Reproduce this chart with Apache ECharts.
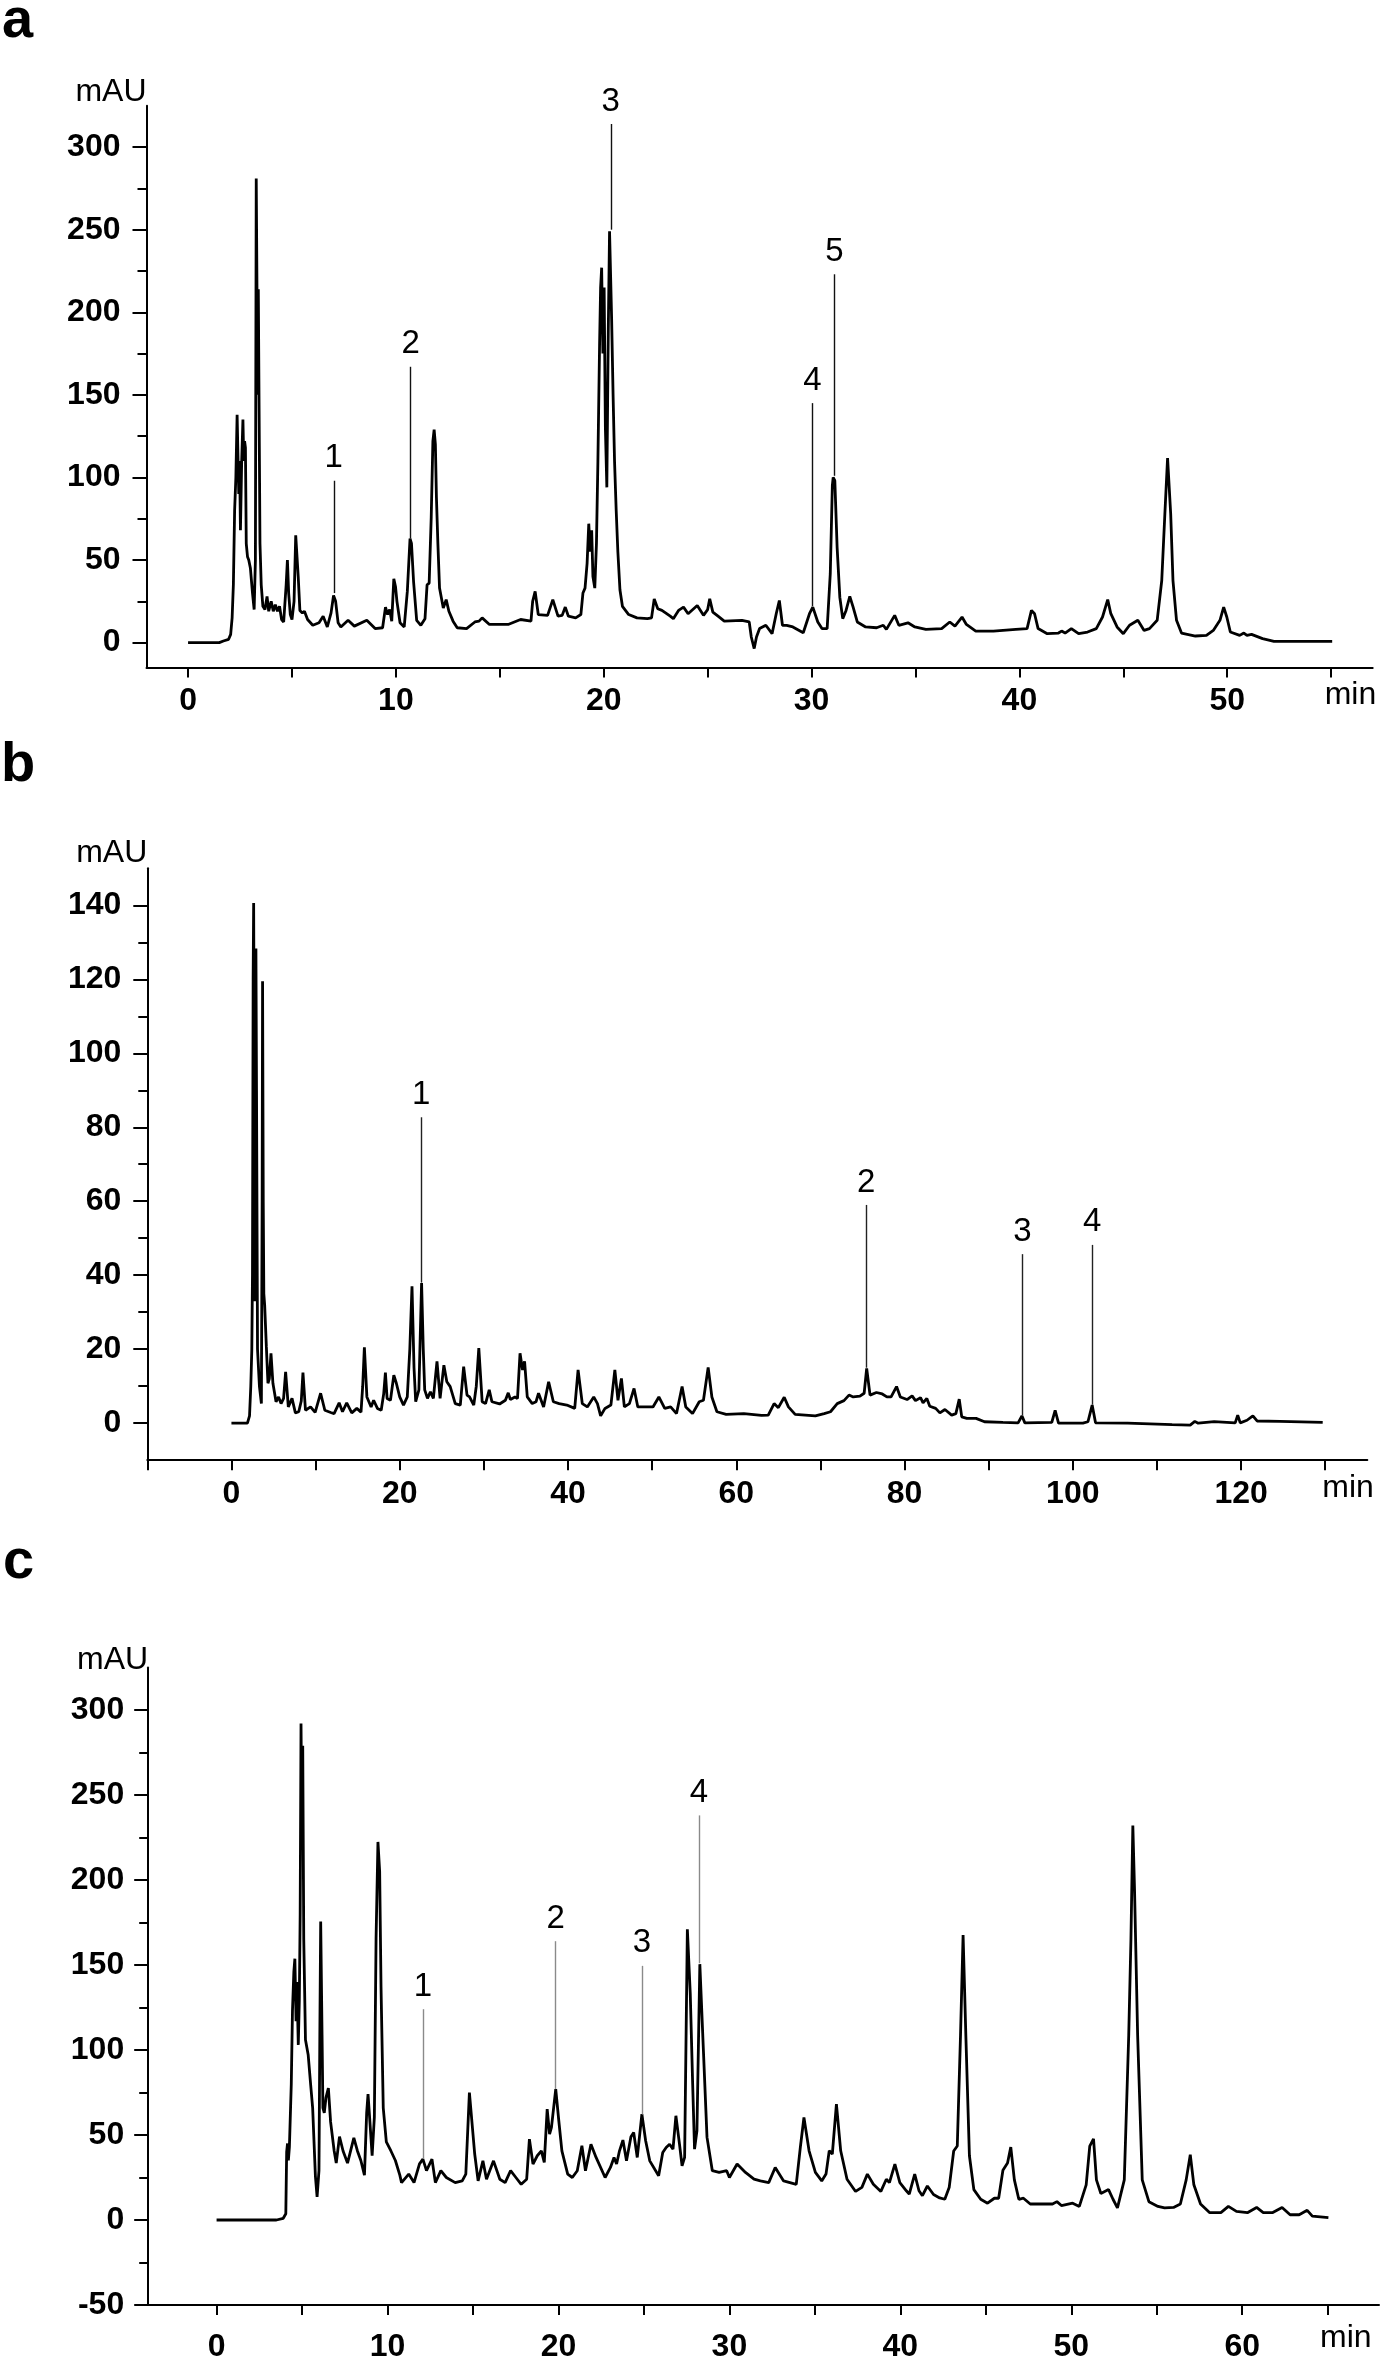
<!DOCTYPE html>
<html>
<head>
<meta charset="utf-8">
<script src="https://cdn.jsdelivr.net/npm/echarts@6/dist/echarts.min.js"></script>
<style>
  html, body { margin: 0; padding: 0; background: #fff; }
  #chart { width: 1383px; height: 2362px; }
</style>
</head>
<body>
<div id="chart"></div>
<script>
// ---- panel a : retention time (min) / absorbance (mAU)
var timeA = [0, 1.5, 1.7, 1.95, 2.05, 2.12, 2.18, 2.24, 2.3, 2.36, 2.4, 2.44, 2.48, 2.52, 2.58, 2.64, 2.68, 2.72, 2.76, 2.8, 2.86, 2.92, 3.0, 3.1, 3.18, 3.24, 3.28, 3.32, 3.35, 3.38, 3.42, 3.46, 3.52, 3.6, 3.7, 3.8, 3.88, 4.0, 4.1, 4.2, 4.3, 4.4, 4.5, 4.6, 4.72, 4.78, 4.84, 4.92, 5.0, 5.1, 5.18, 5.25, 5.3, 5.38, 5.5, 5.6, 5.75, 6.0, 6.3, 6.5, 6.7, 6.88, 7.0, 7.1, 7.22, 7.35, 7.7, 8.0, 8.6, 9.0, 9.36, 9.5, 9.6, 9.7, 9.8, 9.9, 9.98, 10.05, 10.2, 10.4, 10.55, 10.68, 10.75, 10.85, 11.0, 11.2, 11.4, 11.5, 11.6, 11.7, 11.78, 11.84, 11.9, 11.95, 12.02, 12.1, 12.28, 12.42, 12.55, 12.75, 12.95, 13.4, 13.8, 14.0, 14.15, 14.5, 15.4, 16.0, 16.5, 16.58, 16.7, 16.85, 17.3, 17.55, 17.8, 18.0, 18.15, 18.3, 18.65, 18.9, 19.0, 19.1, 19.2, 19.28, 19.35, 19.42, 19.48, 19.57, 19.65, 19.72, 19.8, 19.85, 19.9, 19.96, 20.02, 20.08, 20.15, 20.22, 20.28, 20.33, 20.38, 20.45, 20.52, 20.6, 20.68, 20.78, 20.9, 21.2, 21.6, 22.1, 22.3, 22.43, 22.6, 22.8, 23.2, 23.35, 23.5, 23.6, 23.84, 24.06, 24.5, 24.8, 25.0, 25.1, 25.25, 25.5, 25.8, 26.65, 27.0, 27.1, 27.24, 27.35, 27.5, 27.8, 28.1, 28.3, 28.45, 28.6, 28.8, 29.1, 29.6, 29.9, 30.06, 30.3, 30.5, 30.75, 30.9, 31.0, 31.04, 31.12, 31.23, 31.36, 31.5, 31.66, 31.84, 32.0, 32.2, 32.6, 33.13, 33.45, 33.6, 34.0, 34.2, 34.64, 34.97, 35.5, 36.26, 36.65, 36.9, 37.24, 37.45, 37.9, 38.75, 39.83, 40.37, 40.58, 40.73, 40.9, 41.34, 41.88, 42.03, 42.2, 42.5, 42.85, 43.28, 43.7, 44.0, 44.25, 44.4, 44.7, 45.0, 45.3, 45.7, 46.0, 46.26, 46.63, 46.85, 47.0, 47.13, 47.18, 47.28, 47.39, 47.56, 47.8, 48.47, 49.0, 49.33, 49.65, 49.83, 49.98, 50.15, 50.6, 50.8, 50.95, 51.17, 51.7, 52.25, 55.05];
var mauA = [0, 0, 1, 2, 5, 15, 35, 80, 100, 138, 138, 90, 110, 68, 110, 135, 110, 122, 118, 60, 52, 50, 45, 30, 20, 50, 281, 281, 150, 214, 214, 60, 35, 22, 20, 28, 19, 25, 19, 23, 19, 22, 14, 12.5, 35, 50, 30, 17, 14, 25, 65, 66, 40, 19.5, 18, 19, 14, 10.5, 12, 16, 9.5, 18, 28.5, 25, 12, 9.5, 13.5, 10, 13.5, 8.5, 9, 21.5, 17, 20, 13, 38.6, 34, 25, 12, 9.5, 31, 63, 60, 37, 13.5, 10.5, 14.5, 35, 36, 76, 122, 129, 120, 88, 60, 33, 21, 26, 19, 13, 9, 8.5, 12.5, 13, 15, 11, 11, 14, 13, 25, 31, 17, 16.5, 26, 16, 16.5, 21.5, 16, 15, 17, 30, 33, 48, 72, 55, 68, 40, 33, 60, 110, 180, 215, 227, 175, 215, 130, 94, 190, 249, 249, 196, 150, 110, 80, 55, 32, 22, 17, 15, 14.5, 15, 26.5, 20.5, 19.5, 16, 14.5, 17.5, 19.5, 21.5, 17.5, 22.5, 16.5, 20, 26.5, 18.5, 16, 13, 13.5, 12.5, 3.4, -3.6, 3.4, 8.5, 10.5, 5.4, 17.5, 25.5, 10.5, 10.5, 9.5, 6, 17.5, 21.5, 12.5, 8.5, 8.5, 41.6, 95, 100, 98, 57.7, 27.5, 14.5, 19.5, 28, 21.5, 12.5, 9.5, 9, 10.5, 8, 16.5, 10.5, 12, 9.5, 8, 8.5, 12.5, 10, 15.5, 11, 7, 7, 8, 8.5, 19.5, 17.5, 8.5, 5.4, 5.8, 7, 5.8, 8.5, 5.4, 6.4, 8.5, 15.5, 26, 17.5, 9.5, 5.4, 10.5, 13.5, 7.4, 8.5, 13.5, 37.6, 78, 111.7, 111, 78, 37.6, 13.5, 5.8, 4, 4.4, 7.4, 13.5, 21.5, 15.5, 6.4, 4.4, 5.8, 4.4, 5, 2.4, 0.8, 0.8];
var peakTimeA = [7.01, 10.71, 20.34, 30.04, 31.1];
var peakLowA = [30, 63, 250, 22, 101];
var peakHighA = [98, 167, 314, 145, 223];
var peakNameA = ['1', '2', '3', '4', '5'];
var xTickA = [0, 5, 10, 15, 20, 25, 30, 35, 40, 45, 50, 55];
var xLabelA = [0, 10, 20, 30, 40, 50];
var yMajorA = [0, 50, 100, 150, 200, 250, 300];
var yMinorA = [25, 75, 125, 175, 225, 275];

// ---- panel b
var timeB = [0, 1.9, 2.15, 2.3, 2.42, 2.5, 2.58, 2.64, 2.72, 2.8, 2.86, 2.91, 2.98, 3.1, 3.33, 3.56, 3.65, 3.7, 3.78, 3.85, 3.95, 4.07, 4.15, 4.34, 4.5, 4.7, 4.93, 5.3, 5.6, 5.9, 6.2, 6.44, 6.76, 7.2, 7.6, 8.0, 8.3, 8.5, 8.8, 9.4, 9.95, 10.6, 11.1, 11.8, 12.2, 12.8, 13.2, 13.7, 14.3, 14.9, 15.4, 15.6, 15.8, 16.1, 16.6, 16.9, 17.35, 17.8, 18.1, 18.3, 18.5, 18.9, 19.3, 19.6, 20.0, 20.45, 20.9, 21.2, 21.46, 21.7, 21.9, 22.28, 22.6, 22.8, 22.97, 23.3, 23.65, 24.0, 24.43, 24.8, 25.25, 25.6, 26.0, 26.6, 27.2, 27.6, 28.0, 28.3, 28.8, 29.1, 29.4, 29.8, 30.2, 30.64, 30.96, 31.87, 32.56, 32.9, 33.15, 33.7, 34.0, 34.3, 34.6, 34.84, 35.16, 35.75, 36.2, 36.5, 37.1, 37.7, 38.26, 38.95, 39.86, 40.8, 41.2, 41.7, 42.3, 43.06, 43.5, 43.88, 44.4, 45.1, 45.57, 45.94, 46.35, 46.7, 47.3, 47.85, 48.3, 50.1, 50.8, 51.5, 52.2, 52.9, 53.56, 54.0, 54.8, 55.6, 56.1, 56.66, 57.1, 57.7, 58.8, 60.9, 63.0, 63.8, 64.5, 65.0, 65.7, 66.2, 67.0, 69.4, 70.45, 71.2, 72.0, 72.8, 73.4, 73.9, 74.7, 75.2, 75.5, 75.9, 76.66, 77.35, 77.9, 78.4, 79.05, 79.5, 80.3, 80.9, 81.3, 81.9, 82.2, 82.65, 83.0, 83.7, 84.2, 84.8, 85.6, 86.1, 86.5, 86.8, 87.4, 88.5, 89.5, 91.7, 93.5, 93.95, 94.3, 97.5, 97.9, 98.3, 101.2, 101.8, 102.3, 102.7, 106.5, 111.8, 113.95, 114.5, 114.9, 116.8, 119.3, 119.6, 119.9, 120.7, 121.4, 121.9, 124.6, 129.7];
var mauB = [0, 0, 2, 10, 19.8, 40, 120, 140.6, 90, 33, 80, 128.3, 90, 20, 9.9, 5.3, 60, 119.5, 60, 35, 31.9, 31.9, 20.7, 10.8, 12, 18.9, 10.8, 5.8, 7.1, 5.3, 6.7, 13.9, 4.4, 6.7, 2.8, 3.1, 6, 13.7, 3.5, 4.4, 2.9, 8.1, 3.5, 2.9, 2.6, 5.5, 3.1, 5.5, 2.8, 4, 3, 10, 20.5, 7.1, 4.4, 6.2, 4, 3.5, 8, 13.7, 6.7, 6.2, 13, 10.8, 7.1, 4.9, 7.1, 20, 37, 15, 5.8, 9, 37.9, 20, 9, 6.7, 8.5, 6.7, 16.7, 6.7, 15.7, 11.2, 9.9, 5.3, 4.9, 15.3, 7.6, 7.1, 4.9, 10, 20.3, 5.8, 5.3, 9, 5.8, 5.2, 6.2, 8.2, 6.4, 7.1, 6.7, 18.9, 14.4, 16.7, 7.1, 5.3, 5.8, 8.1, 4.4, 11.2, 5.8, 5.3, 4.9, 4, 14.4, 5.3, 4.4, 7.1, 5.3, 2, 4, 4.9, 14.4, 6.2, 12.1, 4.4, 5.3, 9.4, 4.4, 4.4, 7.1, 4, 4.4, 2.6, 9.9, 4.4, 2.6, 5.8, 6.2, 15.1, 7.1, 3.1, 2.4, 2.6, 2.1, 2.2, 5.3, 4.2, 7, 4.4, 2.4, 2, 2.6, 3.1, 5.3, 6.1, 7.6, 7.1, 7.3, 8.1, 14.8, 7.6, 8.3, 7.9, 7.1, 7.1, 9.9, 7.1, 6.4, 7.4, 6.1, 6.9, 5.5, 6.7, 4.6, 4, 2.8, 3.7, 2.2, 2.6, 6.5, 1.7, 1.3, 1.3, 0.4, 0.2, 0.1, 2, 0.1, 0.2, 3.5, 0, 0, 0.4, 4.9, 0.1, 0, -0.4, -0.5, 0.5, 0, 0.4, 0.1, 2.2, 0.1, 0.8, 2, 0.6, 0.5, 0.2];
var peakTimeB = [22.55, 75.45, 94.0, 102.3];
var peakLowB = [38, 15, 2.2, 5];
var peakHighB = [82.7, 59, 45.7, 48.2];
var peakNameB = ['1', '2', '3', '4'];
var xTickB = [-10, 0, 10, 20, 30, 40, 50, 60, 70, 80, 90, 100, 110, 120, 130];
var xLabelB = [0, 20, 40, 60, 80, 100, 120];
var yMajorB = [0, 20, 40, 60, 80, 100, 120, 140];
var yMinorB = [10, 30, 50, 70, 90, 110, 130];

// ---- panel c
var timeC = [0, 3.5, 3.9, 4.05, 4.1, 4.15, 4.2, 4.26, 4.37, 4.44, 4.52, 4.58, 4.65, 4.7, 4.78, 4.84, 4.89, 4.94, 4.99, 5.04, 5.1, 5.2, 5.36, 5.5, 5.62, 5.78, 5.88, 5.99, 6.04, 6.09, 6.17, 6.22, 6.3, 6.4, 6.54, 6.67, 6.88, 7.0, 7.19, 7.4, 7.66, 8.03, 8.24, 8.44, 8.65, 8.78, 8.86, 8.97, 9.1, 9.23, 9.33, 9.44, 9.54, 9.62, 9.75, 9.93, 10.2, 10.46, 10.72, 10.82, 11.24, 11.55, 11.87, 12.07, 12.28, 12.6, 12.8, 13.12, 13.44, 13.96, 14.37, 14.58, 14.79, 15.1, 15.3, 15.58, 15.79, 16.2, 16.57, 16.88, 17.2, 17.51, 17.82, 18.14, 18.3, 18.51, 18.76, 19.0, 19.17, 19.34, 19.48, 19.59, 19.84, 20.0, 20.2, 20.54, 20.81, 21.1, 21.37, 21.58, 21.9, 22.2, 22.73, 23.04, 23.25, 23.4, 23.57, 23.77, 23.98, 24.24, 24.4, 24.61, 24.88, 25.1, 25.34, 25.86, 26.1, 26.3, 26.5, 26.7, 26.87, 27.08, 27.23, 27.38, 27.54, 27.71, 27.85, 27.96, 28.1, 28.27, 28.48, 28.69, 29.0, 29.4, 29.84, 30.0, 30.45, 30.94, 31.44, 31.81, 32.3, 32.68, 33.17, 33.91, 34.16, 34.36, 34.66, 35.03, 35.4, 35.65, 35.84, 36.02, 36.26, 36.51, 36.88, 37.38, 37.75, 38.07, 38.42, 38.86, 39.18, 39.36, 39.68, 39.97, 40.35, 40.52, 40.84, 41.09, 41.29, 41.58, 41.94, 42.3, 42.6, 42.86, 43.12, 43.33, 43.52, 43.67, 43.83, 44.04, 44.3, 44.7, 45.1, 45.5, 45.75, 46.0, 46.27, 46.46, 46.67, 46.93, 47.2, 47.6, 48.9, 49.16, 49.42, 50.08, 50.47, 50.87, 51.08, 51.3, 51.47, 51.73, 52.18, 52.44, 52.7, 53.1, 53.36, 53.49, 53.6, 53.7, 53.88, 54.15, 54.54, 55.07, 55.46, 55.98, 56.38, 56.72, 56.96, 57.17, 57.56, 58.1, 58.75, 59.19, 59.66, 60.3, 60.84, 61.23, 61.76, 62.33, 62.8, 63.33, 63.8, 64.1, 65.04];
var mauC = [0, 0, 1, 3.7, 40, 45, 35, 43, 80, 123, 146, 153.7, 117, 140, 103, 129, 180, 292, 228, 279, 165, 106, 97, 80, 66, 26, 13.6, 29, 109, 175.6, 109, 66, 63, 72, 77.6, 57.7, 40.6, 33.5, 49, 40.6, 33.5, 48.3, 40.6, 35, 26.4, 63, 74, 57.7, 37.8, 60.5, 165.6, 222.4, 205, 137, 66, 46, 40.6, 35, 26.4, 22, 27, 22, 33, 35.8, 29, 35.8, 22, 29, 25, 22, 23, 27, 75, 38.8, 23, 34.8, 24, 34.8, 24, 22, 29, 25, 21, 24, 47.6, 32.9, 37.8, 40.7, 33.9, 65.2, 50.5, 54.5, 77, 60.3, 40.7, 27, 25, 29, 43.7, 29, 44.6, 36.8, 25, 30.9, 36.8, 32.9, 40.7, 47, 34.8, 49, 51.5, 36.8, 62.3, 46.6, 34.8, 26, 39.7, 42.7, 44.6, 41.7, 61.3, 44.6, 31.9, 36.8, 171, 133, 80, 41.7, 52.5, 150.5, 99.5, 48.6, 29, 28, 29, 25, 32.9, 28, 24, 23, 22, 30.9, 23, 21, 43.7, 60.3, 40.7, 28, 23, 27, 40.7, 38.8, 68.2, 40.7, 24, 16.8, 19.2, 27, 21, 16.8, 24, 22, 32.9, 22, 17.2, 15.2, 27, 17.2, 14.3, 20, 15, 13, 12.2, 19.3, 40.6, 43.5, 108.8, 167.6, 108.8, 37.8, 17.9, 12.2, 9.9, 12.8, 12.8, 29.3, 33.5, 42.9, 23.6, 12.2, 12.8, 9.4, 9.4, 10.8, 8.5, 9.9, 8, 20.7, 43.5, 47.7, 23.6, 15.6, 17.9, 12.2, 7.1, 23.6, 108.8, 165.6, 232, 194, 108.8, 23.6, 10.8, 8, 7.1, 7.4, 9.4, 23.6, 38.4, 20.7, 9.4, 4.3, 4.3, 8, 5.1, 4.3, 7.4, 4.3, 4.3, 7.4, 3.1, 3.1, 5.7, 2.3, 1.4];
var peakTimeC = [12.07, 19.84, 24.88, 28.22];
var peakLowC = [36, 77, 62, 151];
var peakHighC = [124, 164, 149.5, 238];
var peakNameC = ['1', '2', '3', '4'];
var xTickC = [0, 5, 10, 15, 20, 25, 30, 35, 40, 45, 50, 55, 60, 65];
var xLabelC = [0, 10, 20, 30, 40, 50, 60];
var yMajorC = [-50, 0, 50, 100, 150, 200, 250, 300];
var yMinorC = [-25, 25, 75, 125, 175, 225, 275];

var FONT = 'Liberation Sans';

function toPairs(times, values) {
  return times.map(function (t, i) { return [t, values[i]]; });
}

// vertical marker lines drawn at the labelled peaks
function peakMarks(times, lows, highs, names) {
  return times.map(function (t, i) {
    return [{ coord: [t, lows[i]], name: names[i] }, { coord: [t, highs[i]] }];
  });
}

function makeX(grid, min, max, ticks, labels, nameGap, margin, namePad) {
  return {
    type: 'value', gridIndex: grid, min: min, max: max,
    axisLine: { show: true, onZero: false, lineStyle: { color: '#000', width: 2 } },
    axisTick: { show: true, inside: false, length: 10, customValues: ticks, lineStyle: { color: '#000', width: 2 } },
    axisLabel: { customValues: labels, margin: margin, color: '#000', fontFamily: FONT, fontWeight: 'bold', fontSize: 32 },
    splitLine: { show: false },
    name: 'min', nameLocation: 'end', nameGap: nameGap, nameMoveOverlap: false,
    nameTextStyle: { color: '#000', fontFamily: FONT, fontSize: 32, align: 'left', verticalAlign: 'top', padding: [namePad, 0, 0, 0] }
  };
}

function makeY(grid, min, max, ticks, nameGap, margin) {
  return {
    type: 'value', gridIndex: grid, min: min, max: max, position: 'left',
    axisLine: { show: true, onZero: false, lineStyle: { color: '#000', width: 2 } },
    axisTick: { show: true, inside: false, length: 14, customValues: ticks, lineStyle: { color: '#000', width: 2 } },
    axisLabel: { customValues: ticks, margin: margin, color: '#000', fontFamily: FONT, fontWeight: 'bold', fontSize: 32 },
    splitLine: { show: false },
    name: 'mAU', nameLocation: 'end', nameGap: nameGap, nameMoveOverlap: false,
    nameTextStyle: { color: '#000', fontFamily: FONT, fontSize: 32, align: 'right', verticalAlign: 'middle' }
  };
}

// second y axis on the same side carries only the short minor ticks
function makeYMinor(grid, min, max, ticks) {
  return {
    type: 'value', gridIndex: grid, min: min, max: max, position: 'left', offset: 0,
    axisLine: { show: false, onZero: false },
    axisTick: { show: true, inside: false, length: 9, customValues: ticks, lineStyle: { color: '#000', width: 2 } },
    axisLabel: { show: false },
    splitLine: { show: false }
  };
}

function makeSeries(idx, data, marks, markColor) {
  return {
    type: 'line', xAxisIndex: idx, yAxisIndex: idx * 2,
    data: data, showSymbol: false, symbol: 'none', clip: false, silent: true,
    lineStyle: { color: '#000', width: 2.8 },
    markLine: {
      silent: true, symbol: 'none', animation: false,
      lineStyle: { color: markColor, width: 1.4, type: 'solid' },
      label: { show: true, position: 'end', distance: 6, formatter: '{b}', color: '#000', fontFamily: FONT, fontSize: 33 },
      emphasis: { disabled: true },
      data: marks
    }
  };
}

var chart = echarts.init(document.getElementById('chart'), null, { renderer: 'canvas' });

chart.setOption({
  animation: false,
  backgroundColor: '#fff',
  grid: [
    { left: 146.5, top: 105.8, width: 1226.2, height: 561.6, containLabel: false, outerBoundsMode: 'none' },
    { left: 147.3, top: 868.3, width: 1220, height: 591.9, containLabel: false, outerBoundsMode: 'none' },
    { left: 148.2, top: 1667.5, width: 1230.8, height: 637.5, containLabel: false, outerBoundsMode: 'none' }
  ],
  xAxis: [
    makeX(0, -2, 57, xTickA, xLabelA, -48, 18, 12),
    makeX(1, -10, 135, xTickB, xLabelB, -45, 18, 12),
    makeX(2, -4, 68, xTickC, xLabelC, -59, 26, 17)
  ],
  yAxis: [
    makeY(0, -15, 325, yMajorA, 14, 26),
    makeYMinor(0, -15, 325, yMinorA),
    makeY(1, -10, 150, yMajorB, 15, 26),
    makeYMinor(1, -10, 150, yMinorB),
    makeY(2, -50, 325, yMajorC, 7, 24),
    makeYMinor(2, -50, 325, yMinorC)
  ],
  series: [
    makeSeries(0, toPairs(timeA, mauA), peakMarks(peakTimeA, peakLowA, peakHighA, peakNameA), '#111'),
    makeSeries(1, toPairs(timeB, mauB), peakMarks(peakTimeB, peakLowB, peakHighB, peakNameB), '#222'),
    makeSeries(2, toPairs(timeC, mauC), peakMarks(peakTimeC, peakLowC, peakHighC, peakNameC), '#8a8a8a')
  ],
  graphic: [
    { type: 'text', x: 2, y: 22, style: { text: 'a', font: 'bold 56px "Liberation Sans"', fill: '#000', verticalAlign: 'middle' } },
    { type: 'text', x: 1, y: 766, style: { text: 'b', font: 'bold 56px "Liberation Sans"', fill: '#000', verticalAlign: 'middle' } },
    { type: 'text', x: 3, y: 1563, style: { text: 'c', font: 'bold 56px "Liberation Sans"', fill: '#000', verticalAlign: 'middle' } }
  ]
});
</script>
</body>
</html>
